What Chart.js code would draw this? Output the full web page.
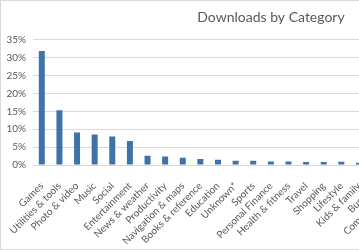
<!DOCTYPE html>
<html>
<head>
<meta charset="utf-8">
<script src="https://cdn.jsdelivr.net/npm/chart.js@4"></script>
<style>
  html, body { margin: 0; padding: 0; background: #fff; overflow: hidden; }
  #wrap { position: relative; width: 542px; height: 250px; }
  #frame { position: absolute; left: 0; top: 0; width: 542px; height: 250px; box-sizing: border-box; border: 1px solid #d9d9d9; pointer-events: none; }
</style>
</head>
<body>
<div id="wrap">
  <canvas id="myChart" width="542" height="250"></canvas>
  <div id="frame"></div>
</div>
<script>
// Chart values
const categories = ['Games', 'Utilities & tools', 'Photo & video', 'Music', 'Social', 'Entertainment',
    'News & weather', 'Productivity', 'Navigation & maps', 'Books & reference', 'Education', 'Unknown*',
    'Sports', 'Personal Finance', 'Health & fitness', 'Travel', 'Shopping', 'Lifestyle', 'Kids & family',
    'Business', 'Communication'];
const downloads = [0.319, 0.153, 0.091, 0.085, 0.080, 0.067, 0.026, 0.024, 0.020, 0.017, 0.015, 0.012,
    0.012, 0.010, 0.010, 0.0085, 0.0085, 0.009, 0.006, 0.005, 0.005];
const yTicks = [0, 0.05, 0.10, 0.15, 0.20, 0.25, 0.30, 0.35];

const grey = '#595959';

// the plot runs past the right edge, but the title is centred on the whole chart
const titleSpan = {
    id: 'titleSpan',
    afterLayout(chart) {
        const t = chart.titleBlock;
        if (t) {
            t.left = 0;
            t.right = chart.width;
            t.width = chart.width;
        }
    }
};

const ctx = document.getElementById('myChart');

new Chart(ctx, {
    type: 'bar',
    data: {
        labels: categories,
        datasets: [{
            label: 'Downloads',
            data: downloads,
            backgroundColor: '#3f72a6',
            categoryPercentage: 1,
            barPercentage: 0.34
        }]
    },
    options: {
        responsive: false,
        animation: false,
        devicePixelRatio: 1,
        layout: { padding: { left: 0, right: 139, top: 0, bottom: 0 } },
        plugins: {
            legend: { display: false },
            tooltip: { enabled: false },
            title: {
                display: true,
                text: 'Downloads by Category',
                color: grey,
                font: { family: 'Lato', size: 14, weight: 'normal' },
                padding: { top: 9, bottom: 14 }
            }
        },
        scales: {
            y: {
                min: 0,
                max: 0.35,
                afterBuildTicks(scale) {
                    scale.ticks = yTicks.map(v => ({ value: v }));
                },
                afterFit(scale) { scale.width = 33; },
                border: { display: false },
                grid: { color: '#d9d9d9', drawTicks: false },
                ticks: {
                    padding: 7,
                    color: grey,
                    font: { family: 'Lato', size: 10 },
                    callback: v => Math.round(v * 100) + '%'
                }
            },
            x: {
                afterFit(scale) { scale.height = 85; },
                border: { color: '#d9d9d9' },
                grid: { display: false },
                ticks: {
                    autoSkip: false,
                    minRotation: 45,
                    maxRotation: 45,
                    padding: 7,
                    color: grey,
                    font: { family: 'Lato', size: 10 }
                }
            }
        }
    },
    plugins: [titleSpan]
});
</script>
</body>
</html>
